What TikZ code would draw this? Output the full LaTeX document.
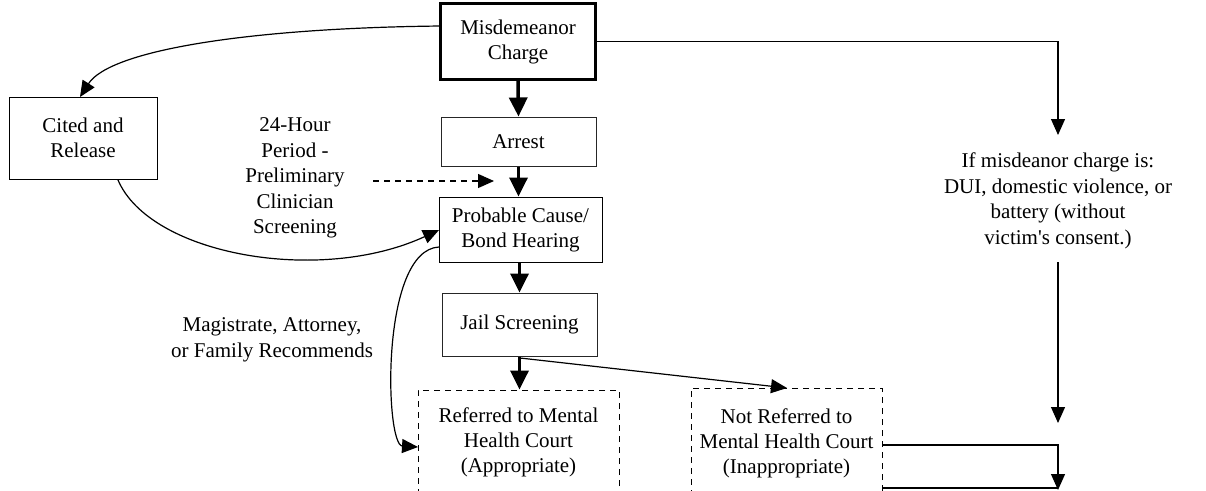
\documentclass[tikz,border=0pt]{standalone}
\usepackage{fontspec}
\setmainfont{Liberation Serif}
\usetikzlibrary{arrows.meta}
\begin{document}
\begin{tikzpicture}[x=1pt,y=-1pt,
  box/.style={draw,rectangle,line width=1pt,align=center,inner sep=0pt,font=\fontsize{21}{25}\selectfont},
  dbox/.style={box,dash pattern=on 6pt off 5pt},
  lbl/.style={align=center,inner sep=0pt,font=\fontsize{21}{25.5}\selectfont},
  thick arr/.style={line width=3.5pt,-{Triangle[length=19pt,width=18pt]}},
  thin arr/.style={line width=1.2pt,-{Triangle[length=16pt,width=14pt]}},
  thin line/.style={line width=1.2pt}]
\useasboundingbox (0,0) rectangle (1206,490);
\node[box,line width=2.8pt,minimum width=155pt,minimum height=76pt] (charge) at (518,41.5) {Misdemeanor\\Charge};
\node[box,draw=black!85,minimum width=155pt,minimum height=49pt] (arrest) at (518.5,141.5) {Arrest};
\node[box,minimum width=163pt,minimum height=65pt] (pc) at (520.5,229.5) {Probable Cause/\\Bond Hearing};
\node[box,draw=black!85,minimum width=155pt,minimum height=63pt] (js) at (519.5,324.5) {Jail Screening};
\node[dbox,minimum width=201pt,minimum height=104pt] (ref) at (518.5,442) {Referred to Mental\\Health Court\\(Appropriate)};
\node[dbox,minimum width=191pt,minimum height=110pt] (notref) at (786.5,443) {Not Referred to\\Mental Health Court\\(Inappropriate)};
\node[box,minimum width=148pt,minimum height=82pt] (cited) at (83,138) {Cited and\\Release};
\node[lbl] (hour) at (295,178) {24-Hour\\Period -\\Preliminary\\Clinician\\Screening};
\node[lbl] (mag) at (272,340) {Magistrate, Attorney,\\or Family Recommends};
\node[lbl] (cond) at (1058,201) {If misdeanor charge is:\\DUI, domestic violence, or\\battery (without\\victim\textquotesingle s consent.)};
% thick vertical arrows
\draw[thick arr] (charge.south) -- (arrest.north);
\draw[thick arr] (arrest.south) -- (arrest.south |- pc.north);
\draw[thick arr] (pc.south -| js.north) -- (js.north);
\draw[thick arr] (js.south) -- (js.south |- ref.north);
% js to not referred
\coordinate (jsout) at (520,358);
\coordinate (nrin) at (787,388);
\draw[thin arr] (jsout) -- (nrin);
% dashed arrow
\coordinate (ds) at (373,181);
\coordinate (de) at (494,181);
\draw[thin arr,dash pattern=on 6pt off 5pt] (ds) -- (de);
% curves
\coordinate (chl) at (441,26);
\coordinate (citin) at (80,97);
\draw[thin arr] (chl) .. controls (250,28) and (110,50) .. (citin);
\coordinate (citout) at (118,180);
\coordinate (pcin) at (439,230);
\draw[thin arr] (citout) .. controls (150,255) and (320,285) .. (pcin);
\coordinate (pcout) at (439,247);
\coordinate (refin) at (418,447);
\draw[thin arr] (pcout) .. controls (380,250) and (385,445) .. (refin);
% right side
\coordinate (r1) at (1058,135);
\draw[thin arr] (charge.east) -| (r1);
\coordinate (r2) at (1058,262);
\coordinate (r3) at (1058,423);
\draw[thin arr] (r2) -- (r3);
\coordinate (nrout) at (882,445);
\coordinate (r4) at (1058,490);
\draw[thin arr] (nrout) -| (r4);
\coordinate (b1) at (883,488);
\coordinate (b2) at (1058,488);
\draw[thin line] (b1) -- (b2);
\end{tikzpicture}
\end{document}
